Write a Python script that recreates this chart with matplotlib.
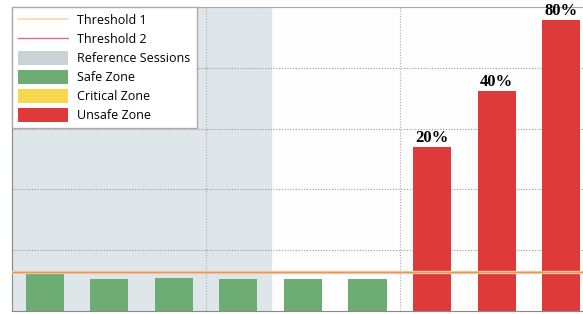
import numpy as np
import matplotlib.pyplot as plt
from matplotlib.patches import Patch
from matplotlib.lines import Line2D

sessions = [1, 2, 3, 4, 5, 6, 7, 8, 9]
values = [0.61, 0.52, 0.54, 0.52, 0.52, 0.52, 2.70, 3.62, 4.79]
zones = ['safe', 'safe', 'safe', 'safe', 'safe', 'safe', 'unsafe', 'unsafe', 'unsafe']
labels = ['', '', '', '', '', '', '20%', '40%', '80%']
threshold1 = 0.64
threshold2 = 0.64
ref_start, ref_end = 0.5, 4.5

zone_colors = {'safe': '#6dac72', 'critical': '#f7d84e', 'unsafe': '#de3a3a'}

fig = plt.figure(figsize=(5.83, 3.14), dpi=100)
ax = fig.add_axes([12/583, 3/314, 571/583, 304/314])
ax.set_facecolor('#fefefe')

ax.axvspan(ref_start, ref_end, color='#dfe6ea', zorder=0)

ax.grid(axis='y', color='#999999', linestyle=(0, (1, 1.5)), linewidth=0.8)
ax.set_axisbelow(True)
for xv in [3.5, 6.5]:
    ax.axvline(xv, color='#aaaaaa', linestyle=(0, (1, 1.5)), linewidth=0.8, zorder=1)

cols = [zone_colors[z] for z in zones]
bars = ax.bar(sessions, values, width=0.59, color=cols, zorder=2)

ax.axhline(threshold1, color='#f1cba6', linewidth=2.4, zorder=3)
ax.axhline(threshold2, color='#e8965f', linewidth=0.9, zorder=3)

for b, lab in zip(bars, labels):
    if lab:
        ax.text(b.get_x() + b.get_width()/2, b.get_height() + 0.02, lab,
                ha='center', va='bottom', fontsize=12, fontweight='bold',
                family='Liberation Serif', zorder=4)

ax.set_xlim(0.49, 9.34)
ax.set_ylim(0, 5)
ax.set_yticks([1, 2, 3, 4, 5])
ax.set_xticks([])
ax.tick_params(left=False, labelleft=False)
ax.spines['right'].set_visible(False)
ax.spines['top'].set_color('#aaaaaa')
ax.spines['top'].set_linestyle((0, (1, 1)))
ax.spines['left'].set_color('#888888')
ax.spines['bottom'].set_color('#888888')

handles = [
    Line2D([], [], color='#f7dca8', linewidth=1.2),
    Line2D([], [], color='#d9707a', linewidth=1.0),
    Patch(facecolor='#c9d3d6'),
    Patch(facecolor=zone_colors['safe']),
    Patch(facecolor=zone_colors['critical']),
    Patch(facecolor=zone_colors['unsafe']),
]
names = ['Threshold 1', 'Threshold 2', 'Reference Sessions', 'Safe Zone', 'Critical Zone', 'Unsafe Zone']
leg = ax.legend(handles, names, loc='upper left', borderaxespad=0,
                prop={'family': 'Open Sans', 'size': 9},
                handlelength=4.0, handleheight=1.35, labelspacing=0.38,
                handletextpad=0.7, borderpad=0.5, fancybox=False, framealpha=1,
                edgecolor='#aaaaaa')
leg.set_zorder(5)

fig.savefig('out.png', dpi=100)
